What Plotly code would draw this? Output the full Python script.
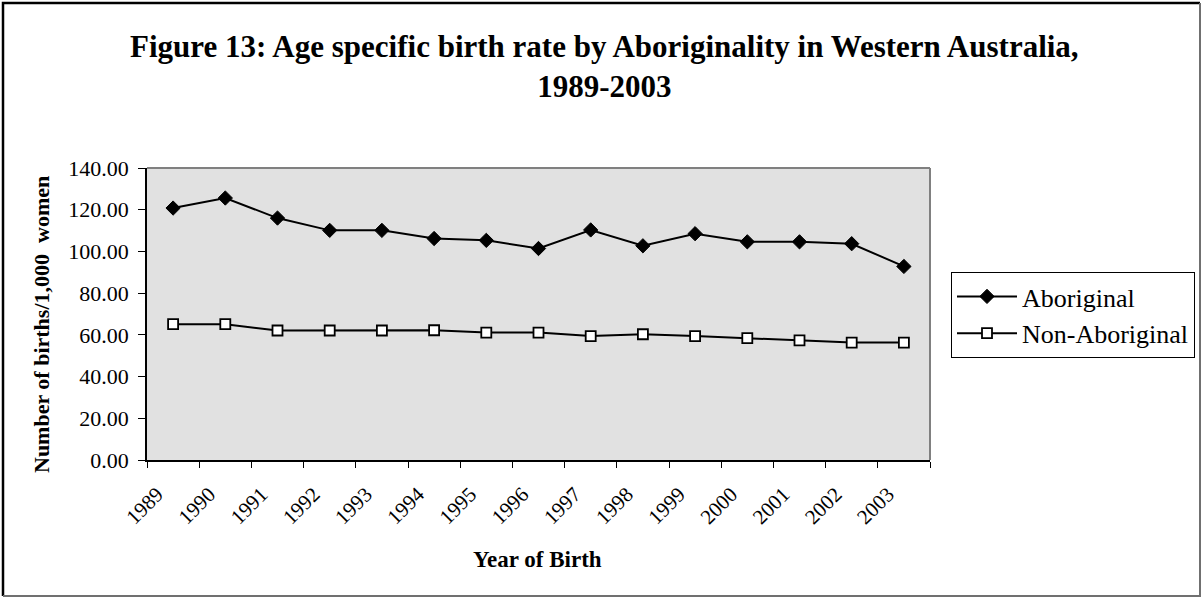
import plotly.graph_objects as go

# Age specific birth rate (births per 1,000 women), Western Australia
years = [str(y) for y in range(1989, 2004)]
aboriginal = [120.8, 125.6, 116.0, 110.1, 110.1, 106.2, 105.3, 101.4,
              110.3, 102.7, 108.5, 104.6, 104.6, 103.7, 92.8]
non_aboriginal = [65.1, 65.1, 62.1, 62.1, 62.1, 62.2, 61.1, 61.1,
                  59.4, 60.3, 59.4, 58.4, 57.4, 56.3, 56.3]
y_ticks = [0, 20, 40, 60, 80, 100, 120, 140]

SERIF = "Liberation Serif, Times New Roman, serif"

W, H = 1202, 598
L, R, T, B = 147, 272, 168, 138
pw, ph = W - L - R, H - T - B


def px_x(px):
    return (px - L) / pw


def px_y(py):
    return (H - B - py) / ph


fig = go.Figure()
fig.add_trace(go.Scatter(
    x=years, y=aboriginal, name="Aboriginal", mode="lines+markers",
    line=dict(color="black", width=2),
    marker=dict(symbol="diamond", size=11, color="black",
                line=dict(color="black", width=1)),
))
fig.add_trace(go.Scatter(
    x=years, y=non_aboriginal, name="Non-Aboriginal", mode="lines+markers",
    line=dict(color="black", width=2),
    marker=dict(symbol="square", size=10, color="white",
                line=dict(color="black", width=1.8)),
))

shapes = [
    # plot-area frame (top and right edges)
    dict(type="line", xref="paper", yref="paper", x0=0, x1=1, y0=1, y1=1,
         line=dict(color="#808080", width=2)),
    dict(type="line", xref="paper", yref="paper", x0=1, x1=1, y0=0, y1=1,
         line=dict(color="#808080", width=2)),
    # outer chart border
    dict(type="path", xref="paper", yref="paper",
         path=f"M {px_x(3)} {px_y(596)} L {px_x(3)} {px_y(3)} L {px_x(1200)} {px_y(3)}",
         line=dict(color="black", width=2.5)),
    dict(type="path", xref="paper", yref="paper",
         path=f"M {px_x(1200)} {px_y(3)} L {px_x(1200)} {px_y(596)} L {px_x(3)} {px_y(596)}",
         line=dict(color="#707070", width=2)),
]

annotations = [
    # chart title
    dict(text="<b>Figure 13: Age specific birth rate by Aboriginality in Western Australia,<br>1989-2003</b>",
         xref="paper", yref="paper", x=px_x(604), y=px_y(27),
         xanchor="center", yanchor="top", showarrow=False,
         font=dict(size=31, family=SERIF, color="black")),
    # axis titles
    dict(text="<b>Year of Birth</b>",
         xref="paper", yref="paper", x=px_x(537), y=px_y(559),
         xanchor="center", yanchor="middle", showarrow=False,
         font=dict(size=23, family=SERIF, color="black")),
    dict(text="<b>Number of births/1,000\u00a0 women</b>",
         xref="paper", yref="paper", x=px_x(41), y=px_y(324),
         xanchor="center", yanchor="middle", showarrow=False, textangle=-90,
         font=dict(size=22, family=SERIF, color="black")),
]

fig.update_layout(
    width=W, height=H,
    margin=dict(l=L, r=R, t=T, b=B, autoexpand=False),
    paper_bgcolor="white",
    plot_bgcolor="#E1E1E1",
    font=dict(family=SERIF, color="black"),
    xaxis=dict(
        type="category", range=[-0.5, 14.5],
        showgrid=False, zeroline=False,
        showline=True, linecolor="black", linewidth=1.5,
        ticks="outside", tickson="boundaries", ticklen=6,
        tickcolor="black", tickwidth=1.2,
        tickangle=-45, tickfont=dict(size=21, family=SERIF),
        ticklabelshift=-16, ticklabelstandoff=12,
    ),
    yaxis=dict(
        range=[0, 140], tickvals=y_ticks,
        ticktext=[f"{v:.2f}" for v in y_ticks],
        showgrid=False, zeroline=False,
        showline=True, linecolor="black", linewidth=1.5,
        ticks="outside", ticklen=7, tickcolor="black", tickwidth=1.2,
        tickfont=dict(size=22, family=SERIF),
        ticklabelstandoff=5,
    ),
    legend=dict(
        xref="container", yref="container",
        x=951 / W, xanchor="left", y=1 - 272 / H, yanchor="top",
        bordercolor="black", borderwidth=1, bgcolor="white",
        font=dict(size=26, family=SERIF), itemwidth=60,
    ),
    showlegend=True,
    shapes=shapes,
    annotations=annotations,
)

fig.write_html("out.html")
